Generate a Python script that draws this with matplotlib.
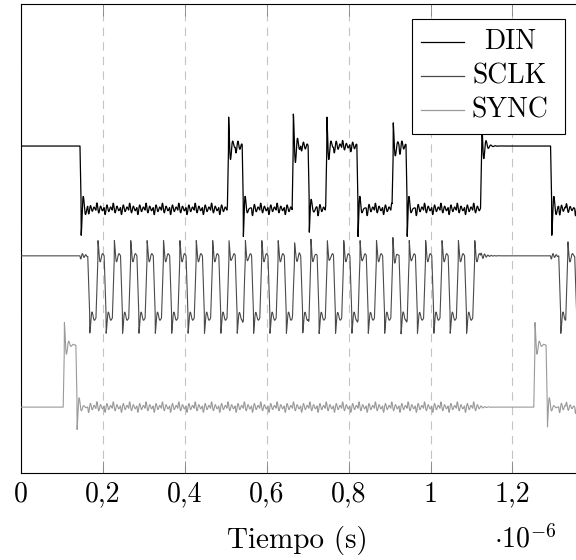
"""Scope capture of the DAC serial bus: DIN, SCLK and SYNC."""

import numpy as np
import matplotlib
matplotlib.use("Agg")
import matplotlib.pyplot as plt
from matplotlib.lines import Line2D
from matplotlib.patches import Rectangle
from matplotlib.ticker import FixedLocator, FuncFormatter


DIN_EDGES = [0.144, 0.504, 0.540, 0.662, 0.701, 0.744, 0.820, 0.906, 0.940, 1.122, 1.293]
SCLK_FALLS = [0.163, 0.203, 0.243, 0.283, 0.323, 0.363, 0.403, 0.443, 0.483, 0.523,
              0.563, 0.603, 0.643, 0.683, 0.723, 0.763, 0.803, 0.843, 0.883, 0.923,
              0.963, 1.003, 1.043, 1.083, 1.313, 1.352]
SCLK_RISES = [0.183, 0.223, 0.263, 0.303, 0.343, 0.383, 0.423, 0.463, 0.503, 0.543,
              0.583, 0.623, 0.663, 0.703, 0.743, 0.783, 0.823, 0.863, 0.903, 0.943,
              0.983, 1.023, 1.063, 1.103, 1.330]
SYNC_EDGES = [0.103, 0.134, 1.252, 1.282]

# (low, high) level of every trace on the shared, offset vertical axis
DIN_LEVELS = (4.33, 5.36)
SCLK_LEVELS = (2.54, 3.56)
SYNC_LEVELS = (1.08, 2.10)

SERIES_NAMES = ["DIN", "SCLK", "SYNC"]
SERIES_COLORS = ["black", "#4a4a4a", "#9a9a9a"]
X_TICKS = [0, 0.2, 0.4, 0.6, 0.8, 1.0, 1.2]

W, H = 576, 560


def px(x, y):
    return x / W, 1 - y / H


def ringing(dt, period, decay):
    dtp = np.clip(dt, 0, None)
    return (dt > 0) * np.exp(-dtp / decay) * np.cos(2 * np.pi * dtp / period)


def scope_trace(t, edges, levels, start_high, overshoot, period, decay, rise=0.003):
    lo, hi = levels
    y = np.full_like(t, hi if start_high else lo)
    high = start_high
    for te in edges:
        step = (lo - hi) if high else (hi - lo)
        high = not high
        dt = t - te
        y += step * np.clip(dt / rise, 0, 1)
        y += step * overshoot * ringing(dt - rise, period, decay)
    return y


def crosstalk(t, edges, start_high, gain, period, decay):
    y = np.zeros_like(t)
    sign = -1 if start_high else 1
    for te in edges:
        dt = np.clip(t - te, 0, None)
        y += sign * gain * (t > te) * np.exp(-dt / decay) * np.sin(2 * np.pi * dt / period)
        sign = -sign
    return y


def main() -> None:
    plt.rcParams["font.family"] = "cmr10"
    plt.rcParams["mathtext.fontset"] = "cm"
    plt.rcParams["axes.unicode_minus"] = False
    plt.rcParams["axes.formatter.use_mathtext"] = True
    plt.rcParams["lines.scale_dashes"] = False

    t = np.arange(0, 1.36, 0.0005)
    sclk_edges = sorted(SCLK_FALLS + SCLK_RISES)

    din = scope_trace(t, DIN_EDGES, DIN_LEVELS, True, 0.42, 0.011, 0.007)
    din += crosstalk(t, sclk_edges, True, 0.12, 0.009, 0.012)
    sclk = scope_trace(t, sclk_edges, SCLK_LEVELS, True, 0.24, 0.012, 0.006, rise=0.005)
    sclk += crosstalk(t, DIN_EDGES, True, 0.06, 0.008, 0.012)
    sync = scope_trace(t, SYNC_EDGES, SYNC_LEVELS, False, 0.36, 0.011, 0.006)
    sync += crosstalk(t, sclk_edges, True, 0.11, 0.009, 0.012)

    fig = plt.figure(figsize=(W / 100, H / 100), dpi=100)
    left, right, top, bottom = 21, 578, 4, 473
    ax = fig.add_axes([left / W, 1 - bottom / H, (right - left) / W, (bottom - top) / H])

    for values, name, color, lw in zip([din, sclk, sync], SERIES_NAMES, SERIES_COLORS, [0.9, 0.8, 0.8]):
        ax.plot(t, values, color=color, linewidth=lw, label=name, zorder=3)

    ax.set_xlim(0, 1.36)
    ax.set_ylim(0, (bottom - top) / 61)
    ax.set_yticks([])
    ax.xaxis.set_major_locator(FixedLocator(X_TICKS))
    ax.xaxis.set_major_formatter(FuncFormatter(
        lambda v, _: f"{v:g}".replace(".", ",")))
    ax.tick_params(axis="x", direction="in", top=True, length=8.5, width=0.6,
                   color="#808080", labelsize=20, pad=6)
    for spine in ax.spines.values():
        spine.set_linewidth(0.8)
    ax.grid(axis="x", color="#c4c4c4", linewidth=0.8, linestyle=(0, (6, 4.5)), zorder=1)

    fig.text(*px(297, 548), "Tiempo (s)", fontsize=21, ha="center", va="baseline")
    fig.text(*px(525, 548), r"$\cdot 10^{-6}$", fontsize=20, ha="center", va="baseline")

    # legend box drawn by hand so the names sit centred like pgfplots does
    x0, y0 = px(412, 134)
    x1, y1 = px(565, 19)
    fig.add_artist(Rectangle((x0, y0), x1 - x0, y1 - y0, transform=fig.transFigure,
                             facecolor="white", edgecolor="black", linewidth=0.8, zorder=5))
    for row, (name, color) in enumerate(zip(SERIES_NAMES, SERIES_COLORS)):
        yy = 42 + 34 * row
        (lx0, ly), (lx1, _) = px(421, yy), px(464, yy)
        fig.add_artist(Line2D([lx0, lx1], [ly, ly], color=color, linewidth=0.9,
                              transform=fig.transFigure, zorder=6))
        fig.text(*px(510, yy), name, fontsize=20, ha="center", va="center", zorder=6)

    fig.savefig("out.png", dpi=100)


if __name__ == "__main__":
    main()
